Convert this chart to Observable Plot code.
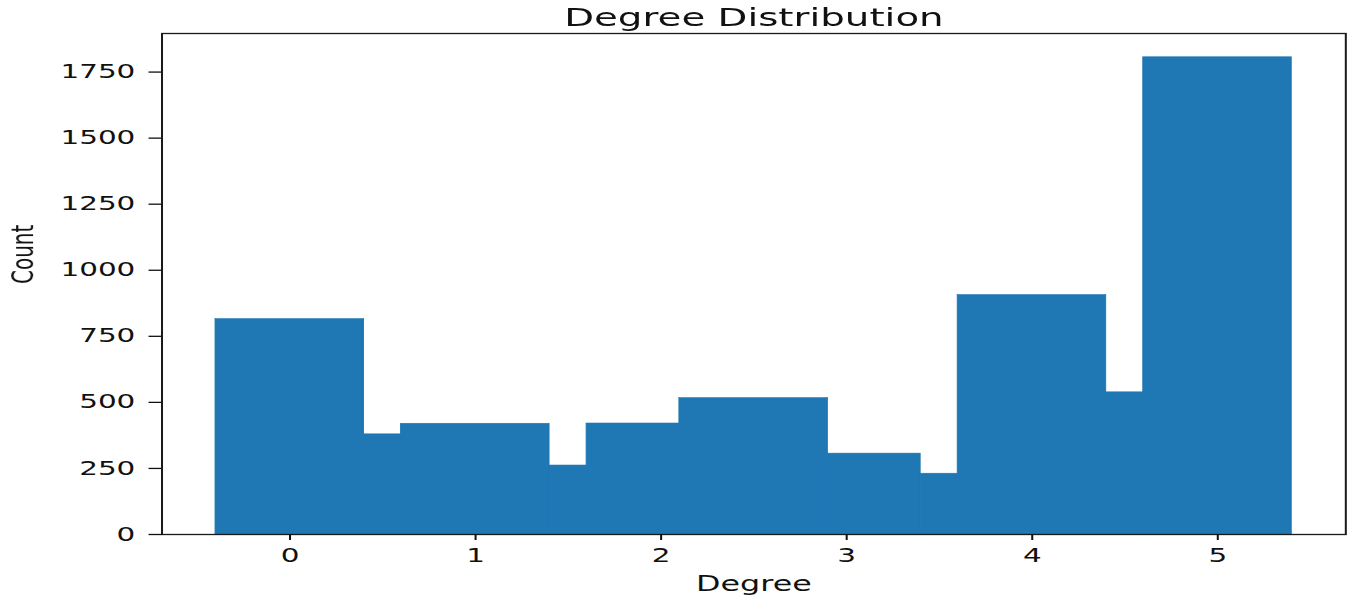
<!DOCTYPE html>
<html>
<head>
<meta charset="utf-8">
<script src="https://cdn.jsdelivr.net/npm/d3@7"></script>
<script src="https://cdn.jsdelivr.net/npm/@observablehq/plot@0.6"></script>
<style>
  html, body { margin: 0; padding: 0; background: #fff; overflow: hidden; }
  #chart { width: 874px; height: 597px; transform: scaleX(1.5503); transform-origin: 0 0; }
</style>
</head>
<body>
<div id="chart"></div>
<script>
// Histogram bins
const binLeft  = [-0.4, 0.4, 0.6, 1.4, 1.6, 2.1, 2.9, 3.4, 3.6, 4.4, 4.6];
const binRight = [0.4, 0.6, 1.4, 1.6, 2.1, 2.9, 3.4, 3.6, 4.4, 4.6, 5.4];
const counts   = [815, 379, 419, 261, 420, 516, 306, 230, 906, 538, 1806];

const xTicks = [0, 1, 2, 3, 4, 5];
const yTicks = [0, 250, 500, 750, 1000, 1250, 1500, 1750];

const titleText = "Degree Distribution";
const xLabel = "Degree";
const yLabel = "Count";

const bins = counts.map((c, i) => ({x1: binLeft[i], x2: binRight[i], count: c}));

const chart = Plot.plot({
  width: 874,
  height: 597,
  marginLeft: 104,
  marginRight: 6.4,
  marginTop: 33,
  marginBottom: 63,
  x: {domain: [-0.69, 5.69]},
  y: {domain: [0, 1896]},
  style: {fontFamily: "DejaVu Sans", background: "white", color: "#111", overflow: "visible"},
  marks: [
    Plot.rect(bins, {x1: "x1", x2: "x2", y1: 0, y2: "count", fill: "#1f77b4", stroke: "#1f77b4", strokeWidth: 0.6, inset: 0}),
    Plot.frame({stroke: "#1a1a1a", strokeWidth: 1.3}),
    Plot.axisX(xTicks, {tickSize: 6, tickPadding: 8, fontSize: 19, strokeWidth: 1.3, label: null, tickFormat: d3.format("d"), fill: "#111"}),
    Plot.axisY(yTicks, {tickSize: 8.2, tickPadding: 9, fontSize: 19, strokeWidth: 1.3, label: null, tickFormat: d3.format("d"), fill: "#111"}),
    Plot.text([titleText], {frameAnchor: "top", dy: -8, lineAnchor: "bottom", fontSize: 25, fill: "#111"}),
    Plot.text([xLabel], {frameAnchor: "bottom", dy: 56, lineAnchor: "bottom", fontSize: 20.5, fill: "#111"}),
    Plot.text([yLabel], {frameAnchor: "left", dx: -83, rotate: -90, lineAnchor: "bottom", fontSize: 20, fill: "#111"})
  ]
});

document.getElementById("chart").appendChild(chart);
</script>
</body>
</html>
